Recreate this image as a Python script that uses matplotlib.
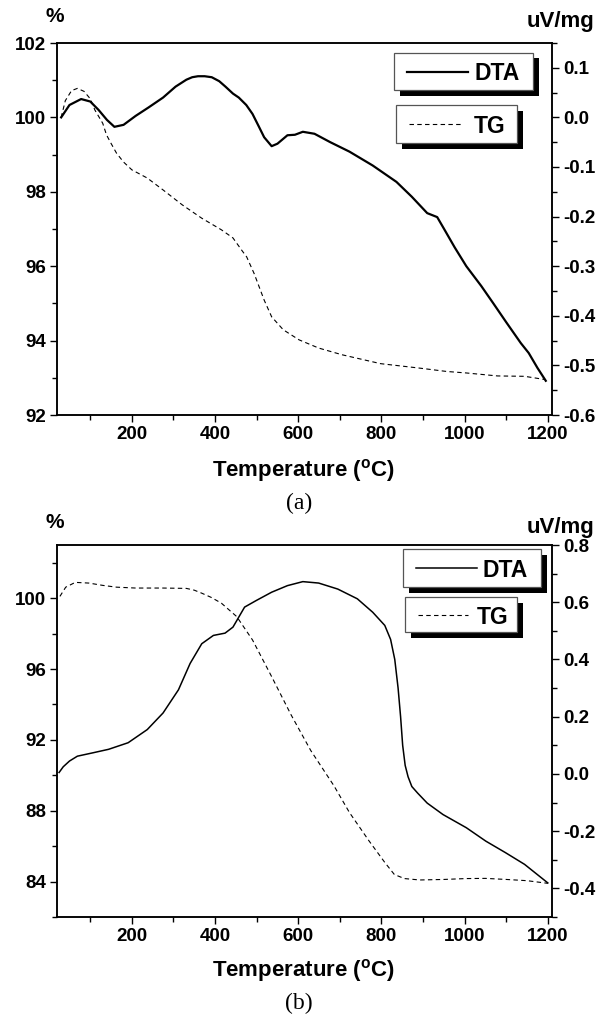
import numpy as np
import matplotlib
matplotlib.use('Agg')
import matplotlib.pyplot as plt
from matplotlib.patches import Rectangle
from matplotlib.lines import Line2D
from matplotlib.ticker import MultipleLocator, FormatStrFormatter

plt.rcParams['font.family'] = ['Liberation Sans', 'DejaVu Sans']
plt.rcParams['font.weight'] = 'bold'
plt.rcParams['axes.unicode_minus'] = False
plt.rcParams['mathtext.fontset'] = 'custom'
plt.rcParams['mathtext.rm'] = 'Liberation Sans:bold'
plt.rcParams['mathtext.bf'] = 'Liberation Sans:bold'

# (a) DTA, uV/mg (right axis)
temp_a_dta = [30, 50, 78, 100, 120, 140, 158, 180, 209, 240, 275, 305, 331, 345, 359,
              375, 392, 410, 425, 443, 457, 475, 490, 505, 518, 536, 550, 574, 592,
              611, 639, 677, 723, 779, 836, 873, 910, 934, 952, 976, 1004, 1040, 1069,
              1100, 1135, 1154, 1175, 1195]
dta_a = [0.000, 0.025, 0.037, 0.032, 0.015, -0.005, -0.019, -0.015, 0.003, 0.020,
         0.040, 0.062, 0.076, 0.081, 0.083, 0.083, 0.081, 0.073, 0.062, 0.048, 0.040,
         0.025, 0.007, -0.018, -0.040, -0.058, -0.053, -0.036, -0.035, -0.029,
         -0.033, -0.050, -0.069, -0.097, -0.130, -0.160, -0.193, -0.201, -0.227,
         -0.262, -0.300, -0.340, -0.375, -0.413, -0.455, -0.475, -0.505, -0.531]

# (a) TG, % (left axis)
temp_a_tg = [30, 40, 55, 69, 85, 100, 111, 130, 139, 150, 163, 180, 200, 237, 275,
             321, 368, 415, 443, 466, 476, 494, 518, 536, 564, 602, 649, 705, 798,
             892, 957, 1004, 1079, 1144, 1195]
tg_a = [100.0, 100.45, 100.72, 100.78, 100.7, 100.5, 100.2, 99.84, 99.53, 99.3,
        99.04, 98.8, 98.59, 98.37, 98.05, 97.65, 97.29, 96.98, 96.76, 96.4, 96.25,
        95.8, 95.09, 94.64, 94.29, 94.02, 93.8, 93.62, 93.38, 93.26, 93.17, 93.13,
        93.05, 93.04, 92.95]

# (b) DTA, uV/mg (right axis)
temp_b_dta = [25, 35, 50, 69, 107, 144, 191, 237, 275, 312, 340, 368, 396, 424, 443,
              471, 499, 536, 574, 611, 649, 695, 742, 779, 808, 822, 832, 840, 846,
              851, 857, 864, 873, 887, 910, 948, 1004, 1051, 1098, 1144, 1200]
dta_b = [0.005, 0.025, 0.045, 0.062, 0.074, 0.086, 0.109, 0.155, 0.213, 0.294, 0.386,
         0.455, 0.484, 0.492, 0.513, 0.583, 0.606, 0.635, 0.658, 0.672, 0.667, 0.646,
         0.612, 0.565, 0.519, 0.47, 0.40, 0.30, 0.20, 0.10, 0.03, -0.01, -0.044,
         -0.067, -0.102, -0.142, -0.188, -0.235, -0.275, -0.316, -0.381]

# (b) TG, % (left axis)
temp_b_tg = [27, 41, 64, 97, 130, 163, 209, 275, 331, 350, 368, 390, 415, 452, 490,
             536, 583, 630, 686, 723, 770, 808, 831, 855, 892, 950, 1004, 1050, 1100,
             1150, 1200]
tg_b = [100.1, 100.62, 100.89, 100.85, 100.72, 100.62, 100.57, 100.57, 100.55, 100.45,
        100.28, 100.05, 99.72, 98.96, 97.64, 95.57, 93.4, 91.4, 89.4, 87.9, 86.3,
        85.08, 84.4, 84.17, 84.09, 84.12, 84.17, 84.18, 84.12, 84.05, 83.9]

# right axis tick labels
dta_ticks_a = [-0.6, -0.5, -0.4, -0.3, -0.2, -0.1, 0.0, 0.1]
dta_ticks_b = [-0.4, -0.2, 0.0, 0.2, 0.4, 0.6, 0.8]

W, H = 608, 1027
TICK_FS = 13.5


def style_axes(ax, ax2):
    for a in (ax, ax2):
        for s in a.spines.values():
            s.set_linewidth(1.1)
        a.tick_params(which='major', direction='out', length=5, width=1.0,
                      labelsize=TICK_FS, pad=3)
        a.tick_params(which='minor', direction='out', length=3.5, width=1.0)
    ax.set_xlim(20, 1210)
    ax.set_xticks([200, 400, 600, 800, 1000, 1200])
    ax.xaxis.set_minor_locator(MultipleLocator(100))
    ax2.yaxis.set_major_formatter(FormatStrFormatter('%.1f'))


def legend_box(fig, box, label, ls, lw, line_end, text_x):
    x0, y0, x1, y1 = box
    off = 5.5
    fig.add_artist(Rectangle(((x0 + off) / W, 1 - (y1 + off) / H), (x1 - x0) / W,
                             (y1 - y0) / H, transform=fig.transFigure,
                             facecolor='black', edgecolor='none', zorder=5))
    fig.add_artist(Rectangle((x0 / W, 1 - y1 / H), (x1 - x0) / W, (y1 - y0) / H,
                             transform=fig.transFigure, facecolor='white',
                             edgecolor='#555555', linewidth=0.9, zorder=6))
    ym = 1 - (y0 + y1) / 2 / H
    fig.add_artist(Line2D([(x0 + 13) / W, line_end / W], [ym, ym],
                          transform=fig.transFigure, color='black', ls=ls, lw=lw,
                          zorder=7))
    fig.text(text_x / W, ym, label, fontsize=16.5, fontweight='bold',
             ha='left', va='center_baseline', zorder=8)


fig = plt.figure(figsize=(W / 100, H / 100), dpi=100)

# ---- panel (a)
ax_a = fig.add_axes([57 / W, 1 - 415 / H, 495 / W, 372 / H])
ax_a2 = ax_a.twinx()
ax_a.plot(temp_a_tg, tg_a, color='black', ls=(0, (4, 3)), lw=0.8)
ax_a2.plot(temp_a_dta, dta_a, color='black', lw=1.6)
ax_a.set_ylim(92, 102)
ax_a.set_yticks([92, 94, 96, 98, 100, 102])
ax_a.yaxis.set_minor_locator(MultipleLocator(1))
ax_a2.set_ylim(-0.6, 0.15)
ax_a2.set_yticks(dta_ticks_a)
ax_a2.yaxis.set_minor_locator(MultipleLocator(0.05))
style_axes(ax_a, ax_a2)

# ---- panel (b)
ax_b = fig.add_axes([57 / W, 1 - 917 / H, 495 / W, 372 / H])
ax_b2 = ax_b.twinx()
ax_b.plot(temp_b_tg, tg_b, color='black', ls=(0, (4, 3)), lw=0.8)
ax_b2.plot(temp_b_dta, dta_b, color='black', lw=1.1)
ax_b.set_ylim(82, 103)
ax_b.set_yticks([84, 88, 92, 96, 100])
ax_b.yaxis.set_minor_locator(MultipleLocator(2))
ax_b2.set_ylim(-0.5, 0.8)
ax_b2.set_yticks(dta_ticks_b)
ax_b2.yaxis.set_minor_locator(MultipleLocator(0.1))
style_axes(ax_b, ax_b2)

# axis titles and captions
xlab = r'Temperature ($^{\mathbf{o}}$C)'
for y_pct, y_xl, cap, y_cap in [(17, 470, '(a)', 503), (523, 970, '(b)', 1003)]:
    fig.text(55 / W, 1 - y_pct / H, '%', fontsize=15, fontweight='bold',
             ha='center', va='center')
    fig.text(560 / W, 1 - (y_pct + 4) / H, 'uV/mg', fontsize=16, fontweight='bold',
             ha='center', va='center')
    fig.text(304 / W, 1 - y_xl / H, xlab, fontsize=16, fontweight='bold',
             ha='center', va='center')
    fig.text(299 / W, 1 - y_cap / H, cap, fontsize=17, fontweight='normal',
             family='Liberation Serif', ha='center', va='center')

# legends
legend_box(fig, (394, 53, 533, 90), 'DTA', '-', 1.6, 468, 474)
legend_box(fig, (396, 105, 517, 143), 'TG', (0, (4, 3)), 0.8, 462, 474)
legend_box(fig, (403, 549, 541, 587), 'DTA', '-', 1.1, 477, 482)
legend_box(fig, (405, 597, 517, 632), 'TG', (0, (4, 3)), 0.8, 468, 477)

fig.savefig('out.png', dpi=100)
